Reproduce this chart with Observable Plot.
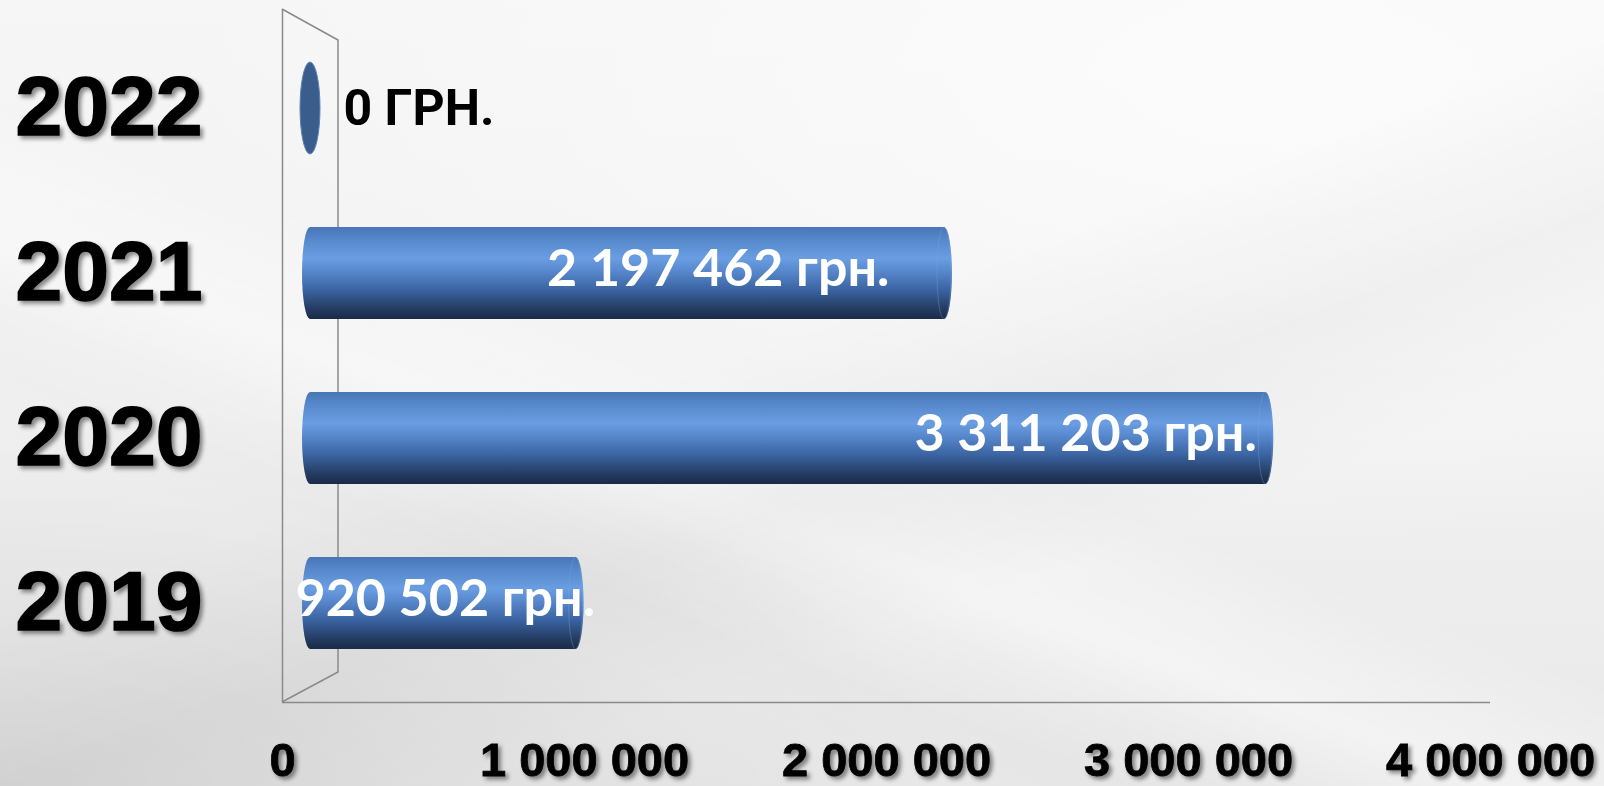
<!DOCTYPE html>
<html>
<head>
<meta charset="utf-8">
<script src="https://cdn.jsdelivr.net/npm/d3@7"></script>
<script src="https://cdn.jsdelivr.net/npm/@observablehq/plot@0.6"></script>
<style>
html, body { margin: 0; padding: 0; }
body {
  width: 1604px; height: 786px; overflow: hidden; position: relative;
  background:
    radial-gradient(ellipse 60% 50% at 0% 100%, rgba(0,0,0,0.07), rgba(0,0,0,0) 100%),
    linear-gradient(160deg, rgba(255,255,255,0) 45%, rgba(0,0,0,0.03) 58%, rgba(255,255,255,0) 70%),
    linear-gradient(20deg, rgba(255,255,255,0) 30%, rgba(255,255,255,0.5) 40%, rgba(255,255,255,0) 50%),
    linear-gradient(200deg, rgba(0,0,0,0) 55%, rgba(0,0,0,0.025) 65%, rgba(0,0,0,0) 75%),
    radial-gradient(ellipse 70% 60% at 80% 10%, #fbfbfb, rgba(251,251,251,0) 100%),
    linear-gradient(180deg, #f6f6f6 0%, #f1f1f1 55%, #e8e8e8 100%);
}
#chart { position: relative; width: 1604px; height: 786px; }
#chart svg { position: absolute; left: 0; top: 0; }
#chart g[aria-label="y-axis tick label"],
#chart g[aria-label="x-axis tick label"] {
  filter: drop-shadow(3px 3px 2px rgba(0,0,0,0.45));
}
#chart g[aria-label="y-axis tick label"] text {
  stroke: #000; stroke-width: 1.6px; paint-order: stroke;
}
#chart g[aria-label="x-axis tick label"] text {
  stroke: #000; stroke-width: 0.8px;
}
</style>
</head>
<body>
<svg width="0" height="0" style="position:absolute">
  <defs>
    <linearGradient id="cyl" x1="0" y1="0" x2="0" y2="1">
      <stop offset="0" stop-color="#4876b6"/>
      <stop offset="0.12" stop-color="#5586c9"/>
      <stop offset="0.34" stop-color="#6a9de2"/>
      <stop offset="0.46" stop-color="#5a8bd0"/>
      <stop offset="0.68" stop-color="#3b64a2"/>
      <stop offset="0.88" stop-color="#253d64"/>
      <stop offset="1" stop-color="#1a2a47"/>
    </linearGradient>
  </defs>
</svg>
<div id="chart"></div>
<script>
const years = ["2022", "2021", "2020", "2019"];
const amounts = [0, 2197462, 3311203, 920502];
const amountLabels = ["0 ГРН.", "2 197 462 грн.", "3 311 203 грн.", "920 502 грн."];
const tickValues = [0, 1000000, 2000000, 3000000, 4000000];
const tickLabels = ["0", "1 000 000", "2 000 000", "3 000 000", "4 000 000"];

const data = years.map((year, i) => ({year, amount: amounts[i], label: amountLabels[i]}));

const W = 1604, H = 786;
const boldSans = "'Liberation Sans', Arial, sans-serif";
const labelFont = "Lato, 'Open Sans', sans-serif";

// Back plane: wall, floor and value axis
const back = Plot.plot({
  width: W, height: H,
  marginLeft: 282, marginRight: 114, marginTop: 9, marginBottom: 84,
  style: {background: "transparent", overflow: "visible"},
  x: {domain: [0, 4000000]},
  y: {domain: [0, 1], axis: null},
  marks: [
    Plot.ruleX([0], {stroke: "#8a8a8a", strokeWidth: 1.5}),
    Plot.ruleY([0], {stroke: "#8a8a8a", strokeWidth: 1.5}),
    Plot.axisX({
      ticks: tickValues,
      tickFormat: d => tickLabels[tickValues.indexOf(d)],
      tickSize: 0, tickPadding: 40, label: null,
      fontSize: 47, fontWeight: 700, fontFamily: boldSans, fill: "#000"
    })
  ]
});
// side wall thickness (decoration)
{
  const sx = back.scale("x"), sy = back.scale("y");
  const x0 = sx.apply(0), yTop = sy.apply(1), yBot = sy.apply(0);
  const depth = 56;
  d3.select(back).append("path")
    .attr("fill", "none").attr("stroke", "#8a8a8a").attr("stroke-width", 1.5)
    .attr("d", `M${x0},${yTop}L${x0 + depth},${yTop + 31}L${x0 + depth},${yBot - 30}L${x0},${yBot}`);
}

// Front plane: cylinders and labels
const valueLabel = (year, dx, anchor) => Plot.text(data.filter(d => d.year === year), {
  x: "amount", y: "year", text: "label", textAnchor: anchor, dx, dy: -4,
  fill: "white", fontSize: 52, fontWeight: 700, fontFamily: labelFont
});

const front = Plot.plot({
  width: W, height: H,
  marginLeft: 310, marginRight: 140, marginTop: 25.5, marginBottom: 100.5,
  style: {background: "transparent", overflow: "visible"},
  x: {domain: [0, 4000000], axis: null},
  y: {domain: years, paddingInner: 0.44, paddingOuter: 0.22},
  marks: [
    Plot.axisY({
      tickSize: 0, tickPadding: 295, textAnchor: "start", label: null,
      fontSize: 84, fontWeight: 700, fontFamily: boldSans, fill: "#000"
    }),
    Plot.barX(data.filter(d => d.amount > 0), {
      x1: 0, x2: "amount", y: "year", fill: "url(#cyl)",
      rx: 8, ry: 50, insetLeft: -8, insetRight: -8
    }),
    Plot.barX(data.filter(d => d.amount > 0), {
      x1: "amount", x2: "amount", y: "year", fill: "url(#cyl)",
      stroke: "#7aa6e0", strokeOpacity: 0.35, strokeWidth: 1,
      rx: 7, ry: 50, insetLeft: -7, insetRight: -7
    }),
    Plot.barX(data.filter(d => d.amount === 0), {
      x1: "amount", x2: "amount", y: "year", fill: "#3b5d8b",
      stroke: "#5b80b4", strokeWidth: 1,
      rx: 10, ry: 50, insetLeft: -10, insetRight: -10
    }),
    Plot.text(data.filter(d => d.amount === 0), {
      x: "amount", y: "year", text: "label", textAnchor: "start", dx: 33,
      fill: "black", fontSize: 50, fontWeight: 700, fontFamily: "Roboto, sans-serif"
    }),
    valueLabel("2021", -55, "end"),
    valueLabel("2020", -9, "end"),
    valueLabel("2019", 19, "end")
  ]
});

const chart = document.getElementById("chart");
chart.appendChild(back);
chart.appendChild(front);
</script>
</body>
</html>
